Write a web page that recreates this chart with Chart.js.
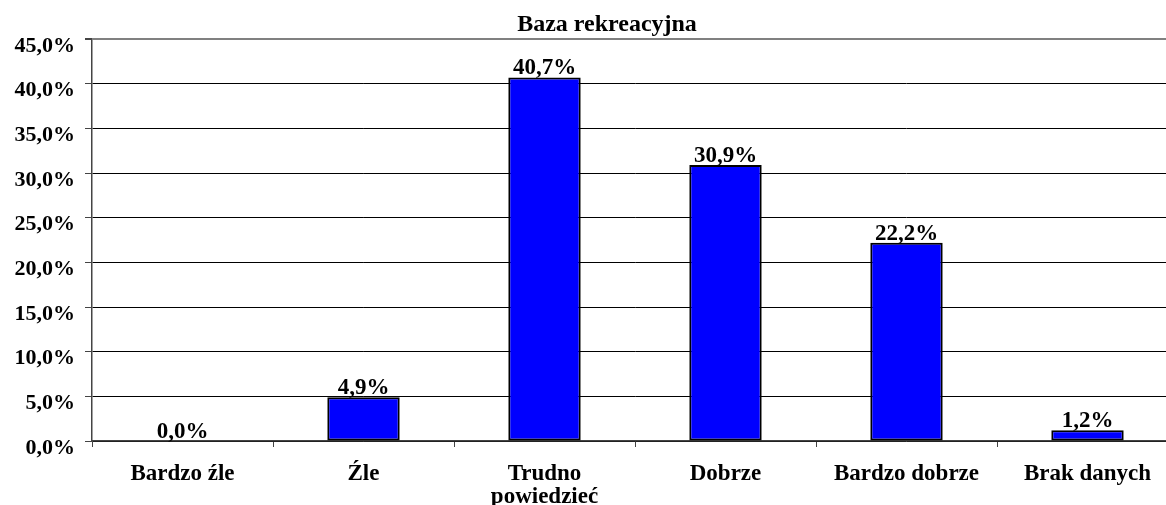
<!DOCTYPE html>
<html>
<head>
<meta charset="utf-8">
<script src="https://cdn.jsdelivr.net/npm/chart.js@4"></script>
<style>
  html, body { margin: 0; padding: 0; background: #fff; overflow: hidden; }
  #wrap { width: 1166px; height: 505px; overflow: hidden; }
</style>
</head>
<body>
<div id="wrap"><canvas id="c" width="1178" height="505"></canvas></div>
<script>
const titleText = 'Baza rekreacyjna';
const categories = ['Bardzo źle', 'Źle', ['Trudno', 'powiedzieć'], 'Dobrze', 'Bardzo dobrze', 'Brak danych'];
const values = [0.0, 4.9, 40.7, 30.9, 22.2, 1.2];
const yMin = 0, yMax = 45, yStep = 5;

const FONT = '"Liberation Serif", "Times New Roman", serif';
const fmt = v => Number(v).toFixed(1).replace('.', ',') + '%';

const titlePlugin = {
  id: 'customTitle',
  afterDraw(chart) {
    const ctx = chart.ctx;
    ctx.save();
    ctx.font = 'bold 24px ' + FONT;
    ctx.fillStyle = '#000';
    ctx.textAlign = 'center';
    ctx.textBaseline = 'alphabetic';
    ctx.fillText(titleText, 607, 31);
    ctx.restore();
  }
};

const valueLabels = {
  id: 'valueLabels',
  afterDatasetsDraw(chart) {
    const ctx = chart.ctx;
    ctx.save();
    ctx.font = 'bold 23px ' + FONT;
    ctx.fillStyle = '#000';
    ctx.textAlign = 'center';
    ctx.textBaseline = 'alphabetic';
    const meta = chart.getDatasetMeta(0);
    meta.data.forEach((bar, i) => {
      ctx.fillText(fmt(values[i]), bar.x, bar.y - 3);
    });
    ctx.restore();
  }
};

new Chart(document.getElementById('c'), {
  type: 'bar',
  data: {
    labels: categories,
    datasets: [{
      data: values,
      backgroundColor: '#0000FF',
      borderColor: '#000000',
      borderWidth: 2,
      borderSkipped: false,
      barPercentage: 0.4,
      categoryPercentage: 1.0
    }]
  },
  options: {
    responsive: false,
    devicePixelRatio: 1,
    animation: false,
    layout: { padding: { top: 39, left: 0, right: 0, bottom: 0 } },
    plugins: {
      legend: { display: false },
      title: { display: false },
      tooltip: { enabled: false }
    },
    scales: {
      x: {
        afterFit(scale) { scale.height = 64; },
        grid: {
          display: true,
          drawOnChartArea: false,
          drawTicks: true,
          tickLength: 6,
          tickColor: '#444',
          offset: true
        },
        border: { display: true, color: '#444', width: 1.5 },
        ticks: {
          color: '#000',
          padding: 15,
          maxRotation: 0,
          autoSkip: false,
          font: { family: FONT, size: 23, weight: 'bold', lineHeight: 1.02 }
        }
      },
      y: {
        min: yMin,
        max: yMax,
        afterFit(scale) { scale.width = 92; },
        grid: {
          color: ctx => (ctx.tick && ctx.tick.value === yMax) ? '#808080' : '#000000',
          lineWidth: ctx => (ctx.tick && ctx.tick.value === yMax) ? 2 : 1,
          drawTicks: true,
          tickLength: 7,
          tickColor: '#444'
        },
        border: { display: true, color: '#444', width: 1.5 },
        ticks: {
          stepSize: yStep,
          color: '#000',
          padding: 10,
          labelOffset: 7,
          callback: v => fmt(v),
          font: { family: FONT, size: 22, weight: 'bold' }
        }
      }
    }
  },
  plugins: [titlePlugin, valueLabels]
});
</script>
</body>
</html>
